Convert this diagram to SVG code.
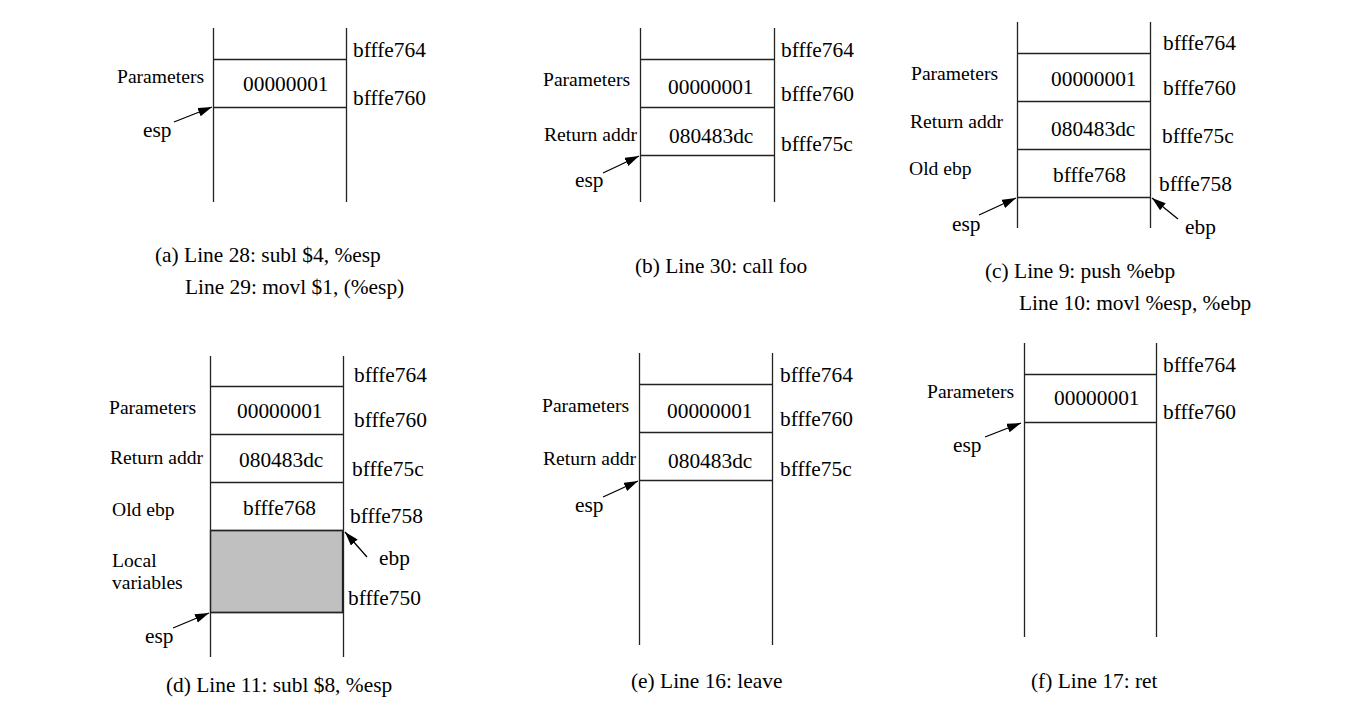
<svg xmlns="http://www.w3.org/2000/svg" width="1370" height="720" viewBox="0 0 1370 720">
<style>
text{font-family:"Liberation Serif","Times New Roman",serif;fill:#000}
.lbl{font-size:19.6px}
.v{font-size:21.4px}
.cap{font-size:21.4px}
.ln{stroke:#222;stroke-width:1.3;fill:none}
.arr{stroke:#000;stroke-width:1.3;fill:none;marker-end:url(#ah)}
</style>
<defs>
<marker id="ah" markerUnits="userSpaceOnUse" markerWidth="15" markerHeight="10" refX="14" refY="4.5" orient="auto">
<path d="M0,0 L14,4.5 L0,9 z" fill="#000"/>
</marker>
</defs>
<rect width="1370" height="720" fill="#fff"/>

<g id="panel-a">
<path class="ln" d="M213.5,28V202M346.5,28V202M213.5,59.5H346.5M213.5,107.5H346.5"/>
<text class="lbl" x="117" y="83">Parameters</text>
<text class="v" x="243" y="91">00000001</text>
<text class="v" x="353" y="57">bfffe764</text>
<text class="v" x="353" y="105">bfffe760</text>
<text class="v" x="143" y="137">esp</text>
<text class="cap" x="155" y="262">(a) Line 28: subl $4, %esp</text>
<text class="cap" x="185" y="294">Line 29: movl $1, (%esp)</text>
</g>

<g id="panel-b">
<path class="ln" d="M640.5,28V202M774.5,28V202M640.5,59.5H774.5M640.5,107.5H774.5M640.5,155.5H774.5"/>
<text class="lbl" x="543" y="86">Parameters</text>
<text class="lbl" x="544" y="141">Return addr</text>
<text class="v" x="668" y="94">00000001</text>
<text class="v" x="669" y="143">080483dc</text>
<text class="v" x="781" y="57">bfffe764</text>
<text class="v" x="781" y="101">bfffe760</text>
<text class="v" x="781" y="151">bfffe75c</text>
<text class="v" x="575" y="187">esp</text>
<text class="cap" x="635" y="273">(b) Line 30: call foo</text>
</g>

<g id="panel-c">
<path class="ln" d="M1017.5,22V228M1150.5,22V228M1017.5,53.5H1150.5M1017.5,101.5H1150.5M1017.5,149.5H1150.5M1017.5,197.5H1150.5"/>
<text class="lbl" x="911" y="80">Parameters</text>
<text class="lbl" x="910" y="128">Return addr</text>
<text class="lbl" x="909" y="175">Old ebp</text>
<text class="v" x="1051" y="86">00000001</text>
<text class="v" x="1051" y="136">080483dc</text>
<text class="v" x="1053" y="182">bfffe768</text>
<text class="v" x="1163" y="50">bfffe764</text>
<text class="v" x="1163" y="95">bfffe760</text>
<text class="v" x="1162" y="143">bfffe75c</text>
<text class="v" x="1159" y="191">bfffe758</text>
<text class="v" x="952" y="231">esp</text>
<text class="v" x="1185" y="234">ebp</text>
<text class="cap" x="985" y="278">(c) Line 9: push %ebp</text>
<text class="cap" x="1019" y="310">Line 10: movl %esp, %ebp</text>
</g>

<g id="panel-d">
<rect x="210.5" y="530.5" width="132" height="82" fill="#c0c0c0" stroke="#222" stroke-width="1.3"/>
<path class="ln" d="M210.5,356V657M343.5,356V657M210.5,386.5H343.5M210.5,434.5H343.5M210.5,482.5H343.5M210.5,530.5H343.5M210.5,612.5H343.5"/>
<text class="lbl" x="109" y="414">Parameters</text>
<text class="lbl" x="110" y="464">Return addr</text>
<text class="lbl" x="112" y="516">Old ebp</text>
<text class="lbl" x="112" y="567">Local</text>
<text class="lbl" x="112" y="589">variables</text>
<text class="v" x="237" y="418">00000001</text>
<text class="v" x="239" y="467">080483dc</text>
<text class="v" x="243" y="515">bfffe768</text>
<text class="v" x="354" y="382">bfffe764</text>
<text class="v" x="354" y="427">bfffe760</text>
<text class="v" x="352" y="476">bfffe75c</text>
<text class="v" x="350" y="523">bfffe758</text>
<text class="v" x="348" y="605">bfffe750</text>
<text class="v" x="379" y="565">ebp</text>
<text class="v" x="145" y="643">esp</text>
<text class="cap" x="166" y="692">(d) Line 11: subl $8, %esp</text>
</g>

<g id="panel-e">
<path class="ln" d="M639.5,353V645M772.5,353V645M639.5,384.5H772.5M639.5,432.5H772.5M639.5,480.5H772.5"/>
<text class="lbl" x="542" y="412">Parameters</text>
<text class="lbl" x="543" y="465">Return addr</text>
<text class="v" x="667" y="418">00000001</text>
<text class="v" x="668" y="468">080483dc</text>
<text class="v" x="780" y="382">bfffe764</text>
<text class="v" x="780" y="426">bfffe760</text>
<text class="v" x="780" y="476">bfffe75c</text>
<text class="v" x="575" y="512">esp</text>
<text class="cap" x="631" y="688">(e) Line 16: leave</text>
</g>

<g id="panel-f">
<path class="ln" d="M1024.5,343V637M1156.5,343V637M1024.5,374.5H1156.5M1024.5,422.5H1156.5"/>
<text class="lbl" x="927" y="398">Parameters</text>
<text class="v" x="1054" y="405">00000001</text>
<text class="v" x="1163" y="372">bfffe764</text>
<text class="v" x="1163" y="419">bfffe760</text>
<text class="v" x="953" y="452">esp</text>
<text class="cap" x="1031" y="688">(f) Line 17: ret</text>
</g>

<g id="connectors">
<line class="arr" x1="174" y1="122" x2="212" y2="107"/>
<line class="arr" x1="603" y1="173" x2="639" y2="156"/>
<line class="arr" x1="979" y1="215" x2="1016" y2="198"/>
<line class="arr" x1="1178" y1="219" x2="1152" y2="198"/>
<line class="arr" x1="367" y1="557" x2="345" y2="532"/>
<line class="arr" x1="173" y1="628" x2="209" y2="613"/>
<line class="arr" x1="603" y1="497" x2="638" y2="481"/>
<line class="arr" x1="985" y1="437" x2="1021" y2="423"/>
</g>
</svg>
